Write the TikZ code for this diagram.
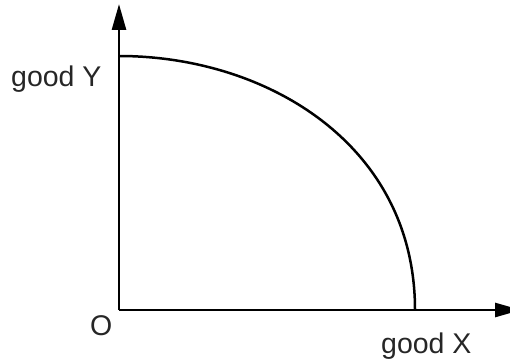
\documentclass[tikz,border=0pt]{standalone}
\usepackage{fontspec}
\setmainfont{Liberation Sans}
\usetikzlibrary{arrows.meta}
\begin{document}
\begin{tikzpicture}[x=1pt,y=-1pt,
  axis/.style={line width=2.7pt,-{Triangle[length=26pt,width=14pt]}},
  curvestyle/.style={line width=2.5pt},
  lbl/.style={inner sep=0pt,anchor=base west,text=black!85,font=\fontsize{28.5}{34}\selectfont}]
\useasboundingbox (0,0) rectangle (510,363);
\clip (0,0) rectangle (510,363);
\coordinate (O) at (119,310);
\coordinate (ytip) at (119,4);
\coordinate (xtip) at (521,310);
\coordinate (ystart) at (119,56);
\coordinate (xend) at (415,310);
\draw[axis] (O) -- (ytip);
\draw[axis] (O) -- (xtip);
\draw[curvestyle] (ystart) .. controls (267,56) and (415,145) .. (xend);
\node[lbl] (gy) at (11,87) {good Y};
\node[lbl] (o) at (90,335) {O};
\node[lbl] (gx) at (381,353) {good X};
\end{tikzpicture}
\end{document}
